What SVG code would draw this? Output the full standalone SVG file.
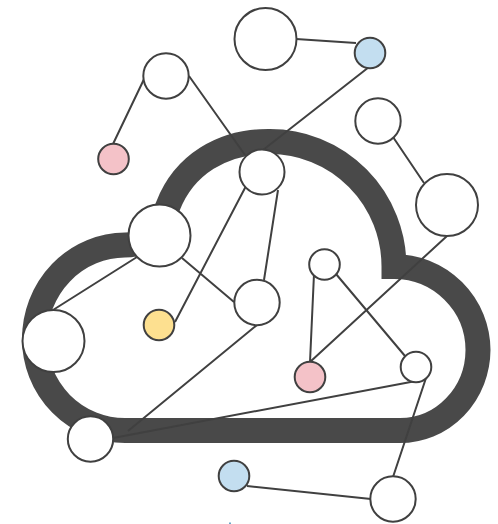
<svg xmlns="http://www.w3.org/2000/svg" width="498" height="524" viewBox="0 0 498 524">
<style>
.n{stroke:#404040;stroke-width:2;fill:#fff}
.c{stroke:#404040;stroke-width:2;fill:none}
.pink{fill:#f4c2c8}.blue{fill:#c3def0}.yellow{fill:#fde090}
</style>
<defs><filter id="soft" x="-5%" y="-5%" width="110%" height="110%"><feGaussianBlur stdDeviation="0.6"/></filter></defs>
<path id="cloud" filter="url(#soft)" d="M125 430.500H400A78 81 0 0 0 478 350A84 84 0 0 0 394 266.500A124 125 0 0 0 270 141.500C222 141 184 165 168 206C158 232 146 245 125 245A91 94 0 0 0 34.500 339A90.500 91.500 0 0 0 125 430.500Z" fill="none" stroke="#4a4a4a" stroke-width="25" stroke-miterlimit="10"/>
<rect x="229" y="522.500" width="2" height="1.500" fill="#6aa6c8"/>
<g id="connectors">
<path class="c" d="M296 39L356 43M369 67L263 150M146 75L113 144M189 76L245 155M393 137L424 183M447 236L310 362M246 186L175 322M278 190L264 280M137 257L53 310M182 258L234 302M257 325L128 431M314 274L310 362M336 274L405 356M416 381L113 438M426 378L393 477M247 486L371 499"/>
</g>
<g id="n1"><circle class="n" cx="265.500" cy="39" r="31"/></g>
<g id="n2"><circle class="n blue" cx="370" cy="53" r="15.300"/></g>
<g id="n3"><circle class="n" cx="166" cy="76" r="22.700"/></g>
<g id="n4"><circle class="n" cx="378" cy="121" r="22.700"/></g>
<g id="n5"><circle class="n pink" cx="113.500" cy="159" r="15.300"/></g>
<g id="n6"><circle class="n" cx="262" cy="172" r="22.500"/></g>
<g id="n7"><circle class="n" cx="447" cy="205" r="31"/></g>
<g id="n8"><circle class="n" cx="159.500" cy="235.500" r="31"/></g>
<g id="n9"><circle class="n" cx="324.500" cy="264.500" r="15.300"/></g>
<g id="n10"><circle class="n" cx="257" cy="302.500" r="22.700"/></g>
<g id="n11"><circle class="n yellow" cx="159" cy="325" r="15.300"/></g>
<g id="n12"><circle class="n" cx="53.500" cy="341" r="31"/></g>
<g id="n13"><circle class="n pink" cx="310" cy="377" r="15.300"/></g>
<g id="n14"><circle class="n" cx="416" cy="367" r="15.300"/></g>
<g id="n15"><circle class="n" cx="90.500" cy="439" r="22.700"/></g>
<g id="n16"><circle class="n blue" cx="234" cy="476" r="15.300"/></g>
<g id="n17"><circle class="n" cx="393" cy="499" r="22.700"/></g>
</svg>
